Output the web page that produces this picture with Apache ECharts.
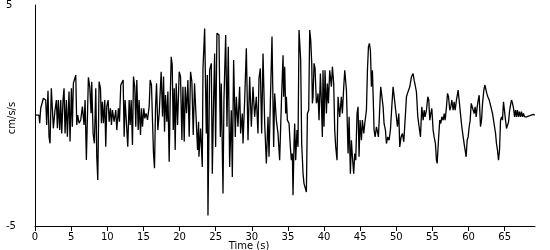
<!DOCTYPE html>
<html>
<head>
<meta charset="utf-8">
<script src="https://cdn.jsdelivr.net/npm/echarts@6/dist/echarts.min.js"></script>
<style>html,body{margin:0;padding:0;background:#fff;}#c{width:550px;height:250px;}</style>
</head>
<body>
<div id="c"></div>
<script>
// Time (s) and acceleration (cm/s/s), in five pieces
const timeA = [0,0.55,0.65,0.79,1.16,1.48,1.62,1.80,1.94,2.08,2.26,2.40,2.54,2.77,2.96,3.10,3.23,3.42,3.56,3.70,3.88,4.02,4.16,4.34,4.48,4.71,4.85,5.04,5.17,5.31,5.50,5.64,5.78,5.91,6.10,6.33,6.56,6.79,6.93,7.11,7.25,7.39,7.58,7.76,7.85,8.04,8.22,8.41,8.55,8.69,8.87,9.06,9.19,9.33,9.47,9.66,9.79,9.93,10.12,10.26,10.44,10.58,10.72,10.95,11.18,11.32,11.55,11.69,11.87,12.01,12.20,12.34,12.47,12.66,12.84,13.03,13.17,13.31,13.49,13.63,13.81,13.95,14.09,14.28,14.41,14.60,14.74,14.88,15.06,15.20,15.38,15.57,15.80,15.94,16.12,16.26,16.40,16.54,16.68,16.82,17.00,17.19,17.32,17.46,17.65,17.79,17.93,18.06,18.25,18.39,18.57,18.71,18.85,18.99,19.13,19.27,19.40,19.54,19.73,19.96,20.14,20.33,20.47,20.65,20.79,20.97,21.16,21.34,21.53,21.71,21.90,22.08,22.27,22.50,22.64];
const accA = [0.02,0.02,-0.35,0.33,0.78,0.70,-0.43,1.12,-0.96,-1.26,1.23,1.23,-0.58,0.25,0.70,-0.58,0.70,-0.66,0.70,-0.81,0.70,1.23,-0.81,0.70,-0.96,1.08,-1.18,1.23,-0.51,1.46,1.53,1.83,-0.43,0.02,-0.35,-0.20,0.40,-0.43,0.70,-2.01,-2.09,1.73,1.28,0.10,1.53,-0.81,-1.26,1.23,-1.86,-2.92,1.53,1.23,-0.35,0.62,-0.35,0.70,-1.41,0.40,0.70,-0.28,0.33,-0.43,0.25,-0.28,0.25,-0.66,0.33,-0.28,1.38,1.30,1.61,-0.96,0.70,0.70,-1.41,0.70,-0.43,0.70,-1.33,1.76,1.28,-0.51,1.61,-0.66,0.70,-0.88,0.33,-0.51,0.33,-0.13,0.10,-0.20,0.40,1.61,1.38,-0.20,-1.71,-2.39,0.33,1.46,-0.66,0.10,0.02,1.98,-0.05,1.76,-0.73,0.93,-0.28,1.08,-2.09,0.70,2.66,2.29,-0.66,1.23,-1.56,1.46,-0.43,1.98,1.76,-1.11,1.30,-1.18,1.30,0.10,1.61,-0.96,1.98,1.53,-0.88,1.46,1.46,-1.56,-0.28];

const timeB = [22.69,22.92,23.15,23.25,23.48,23.71,23.85,23.94,24.17,24.40,24.54,24.72,24.86,25.00,25.18,25.46,25.65,25.78,26.02,26.15,26.39,26.57,26.75,26.94,27.17,27.31,27.49,27.72,27.86,28.09,28.32,28.46,28.69,28.79,29.02,29.25,29.48,29.71,29.94,30.17,30.40,30.63,30.86,31.00,31.19,31.37,31.56,31.79,32.02,32.25,32.39,32.57,32.80,33.03,33.17,33.40,33.63,33.86,34.10];
const accB = [-1.87,-0.59,-2.33,2.13,3.94,-0.81,1.83,-4.52,2.05,2.36,-2.63,0.70,2.81,-1.42,3.72,3.64,-0.97,1.45,-3.53,0.70,3.64,-0.51,3.11,-2.33,0.24,-2.78,2.51,-0.97,0.85,-0.51,1.30,-0.81,0.09,-1.27,0.70,3.04,-1.12,1.75,-0.51,1.30,-0.06,0.85,-0.81,1.68,2.13,-0.81,2.81,-0.36,-2.17,-0.06,-1.87,0.55,3.57,-1.42,1.00,-0.21,-0.81,-2.02,0.55];

const timeC = [34.33,34.42,34.56,34.70,34.79,34.93,35.16,35.34,35.48,35.62,35.71,35.85,35.94,36.08,36.26,36.40,36.54,36.63,36.77,36.91,37.10,37.23,37.42,37.56,37.70,37.88,38.02,38.16,38.30,38.39,38.48,38.62,38.76,38.94,39.08,39.17,39.31,39.50,39.64,39.77,39.86,40.00,40.14,40.33,40.47,40.61,40.79,41.02,41.16,41.34,41.48,41.62,41.80,41.94,42.17,42.40,42.54,42.73,42.87,43.10,43.33,43.47,43.65,43.79,43.93,44.11,44.25,44.39,44.57,44.71,44.85,44.99,45.18,45.31,45.50,45.64,45.87,46.01,46.15,46.28,46.42,46.56,46.70,46.79,46.93,47.07,47.26,47.39,47.53,47.72];
const accC = [2.73,0.85,2.21,0.09,0.85,-0.21,-0.36,-1.42,-2.02,-1.72,-3.61,-1.27,-0.36,-2.02,-0.66,-1.42,3.87,3.87,2.51,-1.27,-2.63,-3.08,-3.08,-3.46,0.09,0.24,3.87,3.41,2.36,0.55,0.85,2.36,2.13,0.55,0.70,1.00,-0.21,1.90,0.55,-0.97,2.05,-0.51,2.05,0.09,1.45,0.55,2.05,1.30,2.21,1.45,-0.66,-1.42,-2.02,0.85,-0.06,0.85,0.09,1.30,2.05,1.15,-1.72,-0.06,-2.63,-1.12,-1.87,-2.63,-1.72,-2.02,0.09,0.39,-1.87,-0.21,-1.12,-0.21,-0.81,-0.36,0.24,2.05,3.11,3.26,2.96,1.30,2.05,1.00,-0.66,-0.97,-0.51,-0.51,-0.97,0.39];

const timeD = [47.85,47.99,48.18,48.31,48.50,48.64,48.82,49.01,49.19,49.38,49.56,49.70,49.84,50.02,50.16,50.35,50.48,50.67,50.85,51.04,51.22,51.41,51.55,51.69,51.87,52.10,52.33,52.47,52.61,52.79,52.98,53.16,53.35,53.53,53.72,53.86,53.99,54.18,54.36,54.50,54.64,54.78,54.92,55.10,55.24,55.42,55.56,55.66,55.84,56.02,56.16,56.30,56.49,56.63,56.76,56.95,57.09,57.23,57.41,57.55,57.69,57.87,58.01,58.15,58.33,58.56,58.70];
const accD = [1.30,1.22,0.39,-0.36,-0.66,-1.27,-0.97,-1.12,-0.66,0.39,1.30,1.38,0.47,-0.06,-0.51,0.09,-1.42,-0.97,-0.81,-1.19,-0.21,0.85,1.00,0.92,1.30,1.75,1.90,1.60,1.38,1.07,-0.06,-0.51,-0.97,0.39,-0.21,0.24,-0.06,0.24,0.85,0.70,-0.21,0.09,0.32,-0.66,-0.97,-1.27,-2.02,-2.17,-1.12,-0.21,-0.36,-0.06,-0.21,0.09,-0.21,0.39,1.00,0.85,0.24,0.39,0.70,0.24,0.62,0.24,0.70,1.15,0.70];

const timeE = [58.93,59.07,59.26,59.39,59.53,59.67,59.81,59.95,60.09,60.23,60.37,60.50,60.64,60.78,60.92,61.06,61.20,61.34,61.47,61.66,61.80,61.94,62.12,62.26,62.40,62.53,62.67,62.86,63.04,63.18,63.32,63.46,63.60,63.74,63.87,64.01,64.15,64.29,64.43,64.57,64.70,64.84,64.98,65.12,65.26,65.40,65.54,65.67,65.81,65.95,66.09,66.23,66.37,66.51,66.64,66.78,66.92,67.06,67.20,67.34,67.48,67.61,67.75,67.89,68.03,68.26,68.49,68.72,68.95,69.18];
const accE = [-0.06,-0.51,-0.97,-1.27,-1.57,-1.87,-1.12,-0.97,-0.51,-0.21,0.55,0.62,0.55,0.09,0.39,-0.06,0.39,0.70,0.92,-0.51,-0.21,0.55,1.15,1.38,1.30,1.00,0.85,0.70,0.47,0.39,0.09,-0.21,-0.51,-0.81,-1.27,-1.57,-2.02,-1.57,-0.21,-0.06,-0.21,0.62,0.70,-0.21,-0.59,-0.66,-0.29,0.17,0.47,0.70,0.55,0.32,-0.06,0.24,-0.06,0.24,-0.06,0.17,-0.06,0.17,-0.06,0.09,-0.06,0.02,-0.06,-0.06,-0.01,0.02,0.05,0.02];

const xTicks = [0,5,10,15,20,25,30,35,40,45,50,55,60,65];
const yTickLabels = ['-5','5'];
const xName = 'Time (s)';
const yName = 'cm/s/s';

const times = [].concat(timeA, timeB, timeC, timeD, timeE);
const accs = [].concat(accA, accB, accC, accD, accE);
const seriesData = times.map((t, i) => [t, accs[i]]);

const FONT = 'DejaVu Sans';
const chart = echarts.init(document.getElementById('c'), null, {renderer: 'canvas'});
chart.setOption({
  animation: false,
  backgroundColor: '#fff',
  grid: {left: 35, right: 15, top: 5, bottom: 24},
  xAxis: {
    type: 'value', min: 0, max: 69.2, interval: 5,
    axisLine: {show: true, onZero: false, lineStyle: {color: '#000', width: 1}},
    axisTick: {show: true, length: 5, lineStyle: {color: '#000'}, customValues: xTicks},
    axisLabel: {show: true, color: '#000', fontFamily: FONT, fontSize: 10, margin: 6, customValues: xTicks},
    splitLine: {show: false}
  },
  yAxis: {
    type: 'value', min: -5, max: 5, interval: 5,
    axisLine: {show: true, onZero: false, lineStyle: {color: '#000', width: 1}},
    axisTick: {show: false},
    axisLabel: {
      show: true, color: '#000', fontFamily: FONT, fontSize: 10, align: 'left', margin: 29,
      formatter: v => (v === -5 ? yTickLabels[0] : v === 5 ? yTickLabels[1] : '')
    },
    splitLine: {show: false}
  },
  graphic: [
    {type: 'text', x: 249, y: 246, style: {text: xName, fill: '#000', font: '10px "DejaVu Sans"', align: 'center', verticalAlign: 'middle'}},
    {type: 'text', x: 12, y: 118, rotation: Math.PI / 2, style: {text: yName, fill: '#000', font: '10px "DejaVu Sans"', align: 'center', verticalAlign: 'middle'}}
  ],
  series: [{
    type: 'line', data: seriesData, showSymbol: false, symbol: 'none',
    lineStyle: {color: '#000', width: 1.3}, silent: true
  }]
});
</script>
</body>
</html>
